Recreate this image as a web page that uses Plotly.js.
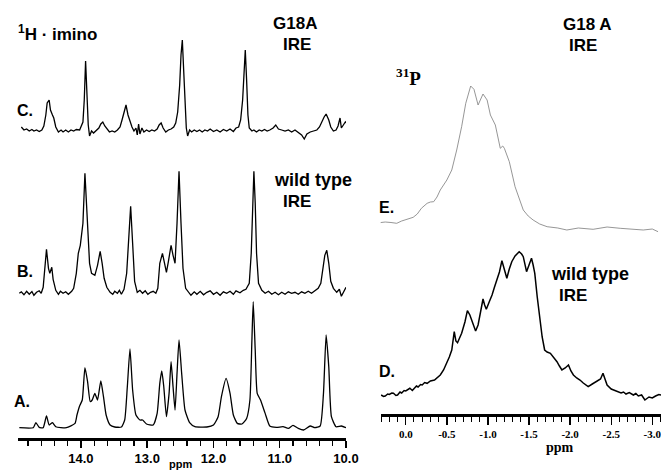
<!DOCTYPE html>
<html>
<head>
<meta charset="utf-8">
<script src="https://cdn.plot.ly/plotly-3.0.1.min.js"></script>
<style>html,body{margin:0;padding:0;background:#fff;}#chart{width:661px;height:472px;}</style>
</head>
<body>
<div id="chart"></div>
<script>
// ---------- 1H imino spectra (ppm, intensity above baseline) ----------
var ppmA = [14.93,14.72,14.68,14.63,14.57,14.52,14.48,14.43,14.38,14.22,14.09,14.06,14.02,13.98,13.94,13.90,13.86,13.83,13.79,13.75,13.70,13.66,13.62,13.56,13.49,13.39,13.34,13.30,13.26,13.22,13.17,13.11,13.07,13.01,12.91,12.85,12.81,12.78,12.75,12.71,12.67,12.64,12.61,12.58,12.55,12.52,12.48,12.43,12.36,12.28,12.10,12.00,11.93,11.88,11.81,11.75,11.70,11.64,11.57,11.50,11.45,11.42,11.40,11.37,11.34,11.29,11.22,11.15,11.05,10.95,10.87,10.80,10.72,10.64,10.54,10.47,10.39,10.34,10.30,10.26,10.22,10.15,10.07,10.00];
var intA = [0,0,5,0.3,0,11.7,2.7,5,1,0,4.3,12.7,21.7,27.7,60,46,26,27.7,34.3,27.7,46.7,31,12.7,2.7,0.7,0.7,7.7,41,78.7,37.7,12.7,7.7,7.7,3.7,2.7,14.3,44.3,56.7,41,11,34.3,66,41,17.7,54.3,87.7,54.3,17.7,5,1,0.7,2.7,11,31,49.3,34.3,12.7,4.3,3.7,9.3,27.7,87.7,126,77.7,34.3,27.7,14.3,1.7,0.3,1,-0.7,2.3,-0.7,-2.3,1.7,0,1.7,34.3,92.7,61,11,1,1.7,0];

var ppmB = [14.93,14.90,14.86,14.82,14.78,14.74,14.71,14.67,14.63,14.60,14.57,14.54,14.52,14.49,14.47,14.44,14.42,14.38,14.34,14.31,14.27,14.23,14.19,14.14,14.11,14.07,14.04,14.01,13.97,13.94,13.90,13.87,13.84,13.79,13.75,13.71,13.68,13.65,13.61,13.56,13.52,13.49,13.45,13.42,13.39,13.35,13.31,13.28,13.25,13.22,13.19,13.15,13.11,13.07,13.03,12.99,12.95,12.91,12.87,12.84,12.81,12.77,12.74,12.71,12.68,12.64,12.61,12.58,12.55,12.52,12.49,12.46,12.42,12.38,12.34,12.29,12.25,12.20,12.15,12.10,12.05,12.00,11.95,11.90,11.85,11.80,11.75,11.70,11.66,11.60,11.55,11.51,11.46,11.43,11.41,11.39,11.37,11.35,11.32,11.27,11.22,11.17,11.12,11.07,11.02,10.97,10.92,10.87,10.82,10.77,10.72,10.67,10.62,10.57,10.52,10.47,10.42,10.38,10.35,10.32,10.29,10.26,10.23,10.19,10.14,10.10,10.07,10.03,10.00];
var intB = [0,1.5,-1.5,2,-1,1.8,-2,1,2.5,0,6,25,44,25,20,26,14,3,-1,2,0,1.5,-1,2,5,20,40,48,70,120,60,30,20,18,28,42,30,15,6,1,-1,2,0,3,-1,4,20,55,87,50,12,1,3,0,2.5,-1,1,2,0,5,30,40,32,21,32,48,38,30,70,122,70,25,5,1,-2,1.5,-1,2,-1.5,1,2.5,-1,1,-2,1.5,0,2,-1,2.5,0.5,3,4,10,40,90,122,90,40,10,3,0,2,-1,1,-1.5,1,-1,1.5,0,1,-1,1.5,0,2,0,3,5,10,25,38,43,30,12,5,1,4,-3,3,6];

var ppmC = [14.90,14.86,14.82,14.78,14.74,14.71,14.67,14.63,14.59,14.56,14.53,14.51,14.48,14.46,14.43,14.41,14.38,14.34,14.30,14.27,14.23,14.19,14.15,14.11,14.07,14.02,13.97,13.95,13.93,13.91,13.89,13.87,13.84,13.81,13.77,13.73,13.70,13.67,13.64,13.61,13.57,13.53,13.49,13.45,13.41,13.38,13.34,13.32,13.29,13.26,13.23,13.20,13.17,13.15,13.13,13.11,13.08,13.05,13.01,12.97,12.93,12.89,12.85,12.82,12.79,12.76,12.72,12.68,12.64,12.60,12.57,12.54,12.51,12.49,12.47,12.45,12.43,12.41,12.39,12.36,12.33,12.29,12.25,12.21,12.17,12.13,12.09,12.05,12.00,11.95,11.90,11.85,11.80,11.75,11.70,11.66,11.62,11.59,11.56,11.54,11.52,11.50,11.48,11.46,11.42,11.39,11.35,11.31,11.27,11.23,11.19,11.15,11.10,11.06,11.02,10.97,10.92,10.87,10.82,10.77,10.72,10.67,10.63,10.59,10.54,10.49,10.44,10.40,10.37,10.33,10.30,10.26,10.23,10.19,10.15,10.12,10.09,10.07,10.04,10.01,10.00];
var intC = [3,0,1,-1,0.5,-1,0,-1.5,0,4,15,27,30,20,15,12,3,-2,0,-2,0,-2,0,-1,0.5,0,8,30,69,40,5,-6,-1,-3,0,2,6,8,4,1,-2,-1,-2,0,3,10,20,25,15,8,3,-1,2,-5,6,-4,2,-2,0,-1.5,0,-1,1,5,7,2,-2,0,1,3,7,18,45,75,90,60,20,2,-6,0,-2,0,-1.5,0,-2,0,-1,1,-1.5,0,-2,0.5,-1,1,-1.5,2,3,10,30,60,80,50,15,2,-1,0,-2,0,-1,0.5,-1,0,2,5,1,0,-1,0,-2,0,-3,-5,-9,-4,-2,-1,0,3,8,13,16,10,3,-1,0,4,12,2,5,8,7];

// ---------- 31P spectra ----------
var ppmD = [0.30,0.27,0.25,0.22,0.20,0.17,0.15,0.12,0.10,0.07,0.05,0.02,0.00,-0.03,-0.05,-0.08,-0.10,-0.13,-0.15,-0.18,-0.20,-0.23,-0.26,-0.30,-0.35,-0.38,-0.42,-0.46,-0.50,-0.53,-0.56,-0.59,-0.61,-0.63,-0.66,-0.68,-0.72,-0.75,-0.78,-0.80,-0.85,-0.88,-0.90,-0.94,-0.96,-0.98,-1.02,-1.05,-1.08,-1.11,-1.14,-1.17,-1.20,-1.23,-1.26,-1.29,-1.33,-1.38,-1.41,-1.43,-1.47,-1.50,-1.53,-1.55,-1.57,-1.60,-1.63,-1.66,-1.69,-1.72,-1.76,-1.80,-1.84,-1.87,-1.90,-1.94,-1.98,-2.01,-2.04,-2.08,-2.12,-2.16,-2.19,-2.22,-2.27,-2.32,-2.37,-2.40,-2.43,-2.45,-2.50,-2.54,-2.57,-2.62,-2.65,-2.68,-2.72,-2.77,-2.80,-2.83,-2.87,-2.91,-2.96,-3.00,-3.04,-3.08,-3.11];
var intD = [2,0.5,1,3,2.5,4,3.7,1.5,2,5,4,6.5,6,8,8.7,6.5,8,11,10,12.5,12,14.5,13.7,16,17,19,22,27,33.7,40,47,65.3,56,54.3,60,63.7,75,86.3,82,77,66,72,80.3,98,92,87.7,96,102,110,117,125,136.3,128,118.7,128,135.3,141,145.3,143,140.3,125.3,133,138.7,132,123.7,100,80.3,60,47,45,43.7,40,35.3,31,27,29,32,26,22,19,17,14,12,10.3,13,15.3,18,23.7,16,12,8,6.5,5.3,4,5,3,4.5,2,3.5,1,2,-3,0,-1,1,2.5,2];

var ppmE = [0.32,0.25,0.18,0.11,0.05,-0.02,-0.09,-0.14,-0.19,-0.26,-0.30,-0.34,-0.38,-0.42,-0.50,-0.56,-0.62,-0.68,-0.73,-0.79,-0.83,-0.88,-0.94,-0.99,-1.03,-1.09,-1.13,-1.15,-1.18,-1.20,-1.26,-1.33,-1.43,-1.49,-1.55,-1.63,-1.72,-1.85,-1.96,-2.10,-2.28,-2.45,-2.61,-2.75,-2.89,-3.00,-3.07];
var intE = [3.3,4,3.5,2.7,5,7,8.7,12,17.7,22.7,24,24.3,29,36,46,56,76,99.3,122.7,140,136.7,121,132,126,111,101,85,77.7,80,77.7,64.3,39.3,16,10,6,2,-0.7,-2,-4,-2,-3.3,-1,-2.3,-3,-4,-3,-5.7];

// ---------- axis ticks ----------
var hTickVals = [14,13,12,11,10];
var hTickText = ['14.0','13.0','12.0','11.0','10.0'];
var pTickVals = [0,-0.5,-1,-1.5,-2,-2.5,-3];
var pTickText = ['0.0','-0.5','-1.0','-1.5','-2.0','-2.5','-3.0'];

var W = 661, H = 472;
function fx(px){ return px / W; }
function fy(py){ return 1 - py / H; }

var lineBlack = {color:'#000', width:1.3};
var traces = [
  {x: ppmA, y: intA, xaxis:'x', yaxis:'y', mode:'lines', line:{color:'#000', width:1.3, shape:'spline', smoothing:0.5}},
  {x: ppmB, y: intB, xaxis:'x', yaxis:'y2', mode:'lines', line:lineBlack},
  {x: ppmC, y: intC, xaxis:'x', yaxis:'y3', mode:'lines', line:lineBlack},
  {x: ppmD, y: intD, xaxis:'x2', yaxis:'y4', mode:'lines', line:{color:'#000', width:1.5}},
  {x: ppmE, y: intE, xaxis:'x2', yaxis:'y5', mode:'lines', line:{color:'#8a8a8a', width:0.9}}
];

var sansB = {family:'Liberation Sans, Arial, sans-serif', color:'#000', weight:700};
function f(obj, size){ var o = {}; for (var k in obj) o[k] = obj[k]; o.size = size; return o; }
var serifB = {family:'Liberation Serif, Times New Roman, serif', color:'#000', weight:700};

var hiddenY = function(dom, rng, anchor){ return {domain: dom, range: rng, visible:false, anchor: anchor, fixedrange:true}; };

var layout = {
  width: W, height: H,
  margin: {l:0, r:0, t:0, b:0},
  paper_bgcolor:'#fff', plot_bgcolor:'rgba(0,0,0,0)',
  showlegend:false,
  xaxis: {
    domain:[fx(18), fx(346)], range:[14.95, 10.0], anchor:'y',
    showgrid:false, zeroline:false, showline:true, linecolor:'#000', linewidth:2.5,
    ticks:'outside', ticklen:7, tickwidth:1.5, tickcolor:'#000',
    tickmode:'array', tickvals: hTickVals, ticktext: hTickText,
    tickfont: f(sansB, 13), ticklabeloverflow:'allow',
    minor: {tickmode:'linear', tick0:10, dtick:0.2, ticks:'outside', ticklen:5, tickwidth:1.3, tickcolor:'#000', showgrid:false}
  },
  yaxis: hiddenY([fy(438), fy(298)], [-10.3, 129.7], 'x'),
  yaxis2: hiddenY([fy(300), fy(160)], [-6.7, 133.3], 'x'),
  yaxis3: hiddenY([fy(145), fy(30)], [-15, 100], 'x'),
  xaxis2: {
    domain:[fx(380.7), 1], range:[0.305, -3.106], anchor:'y4',
    showgrid:false, zeroline:false, showline:true, linecolor:'#000', linewidth:3,
    ticks:'outside', ticklen:8, tickwidth:1.3, tickcolor:'#000',
    tickmode:'array', tickvals: pTickVals, ticktext: pTickText,
    tickfont: f(serifB, 11), ticklabeloverflow:'allow',
    minor: {tickmode:'linear', tick0:0, dtick:0.1, ticks:'outside', ticklen:5, tickwidth:1, tickcolor:'#000', showgrid:false}
  },
  yaxis4: hiddenY([fy(414), fy(240)], [-17, 157], 'x2'),
  yaxis5: hiddenY([fy(240), fy(66)], [-14, 160], 'x2'),
  annotations: [
    {text:'<sup>1</sup>H · imino', x:fx(16), y:fy(33), xanchor:'left', yanchor:'middle', font:f(sansB,17)},
    {text:'G18A', x:fx(295), y:fy(24), xanchor:'center', yanchor:'middle', font:f(sansB,17)},
    {text:'IRE', x:fx(297), y:fy(45), xanchor:'center', yanchor:'middle', font:f(sansB,17)},
    {text:'C.', x:fx(15), y:fy(110), xanchor:'left', yanchor:'middle', font:f(sansB,16)},
    {text:'wild type', x:fx(272), y:fy(180), xanchor:'left', yanchor:'middle', font:f(sansB,18)},
    {text:'IRE', x:fx(297), y:fy(201), xanchor:'center', yanchor:'middle', font:f(sansB,17)},
    {text:'B.', x:fx(15), y:fy(271), xanchor:'left', yanchor:'middle', font:f(sansB,16)},
    {text:'A.', x:fx(12), y:fy(401), xanchor:'left', yanchor:'middle', font:f(sansB,16)},
    {text:'ppm', x:fx(180), y:0, xanchor:'center', yanchor:'bottom', font:f(sansB,11)},
    {text:'G18 A', x:fx(587), y:fy(25), xanchor:'center', yanchor:'middle', font:f(sansB,17)},
    {text:'IRE', x:fx(583), y:fy(46), xanchor:'center', yanchor:'middle', font:f(sansB,17)},
    {text:'<sup>31</sup>P', x:fx(394), y:fy(77), xanchor:'left', yanchor:'middle', font:f(serifB,19)},
    {text:'E.', x:fx(377), y:fy(208), xanchor:'left', yanchor:'middle', font:f(sansB,16)},
    {text:'wild type', x:fx(549), y:fy(274), xanchor:'left', yanchor:'middle', font:f(sansB,18)},
    {text:'IRE', x:fx(573), y:fy(295), xanchor:'center', yanchor:'middle', font:f(sansB,17)},
    {text:'D.', x:fx(377), y:fy(371), xanchor:'left', yanchor:'middle', font:f(sansB,16)},
    {text:'ppm', x:fx(560), y:fy(447), xanchor:'center', yanchor:'middle', font:f(serifB,14)}
  ].map(function(a){ a.xref='paper'; a.yref='paper'; a.showarrow=false; return a; })
};

Plotly.newPlot('chart', traces, layout, {displayModeBar:false, staticPlot:true});
</script>
</body>
</html>
